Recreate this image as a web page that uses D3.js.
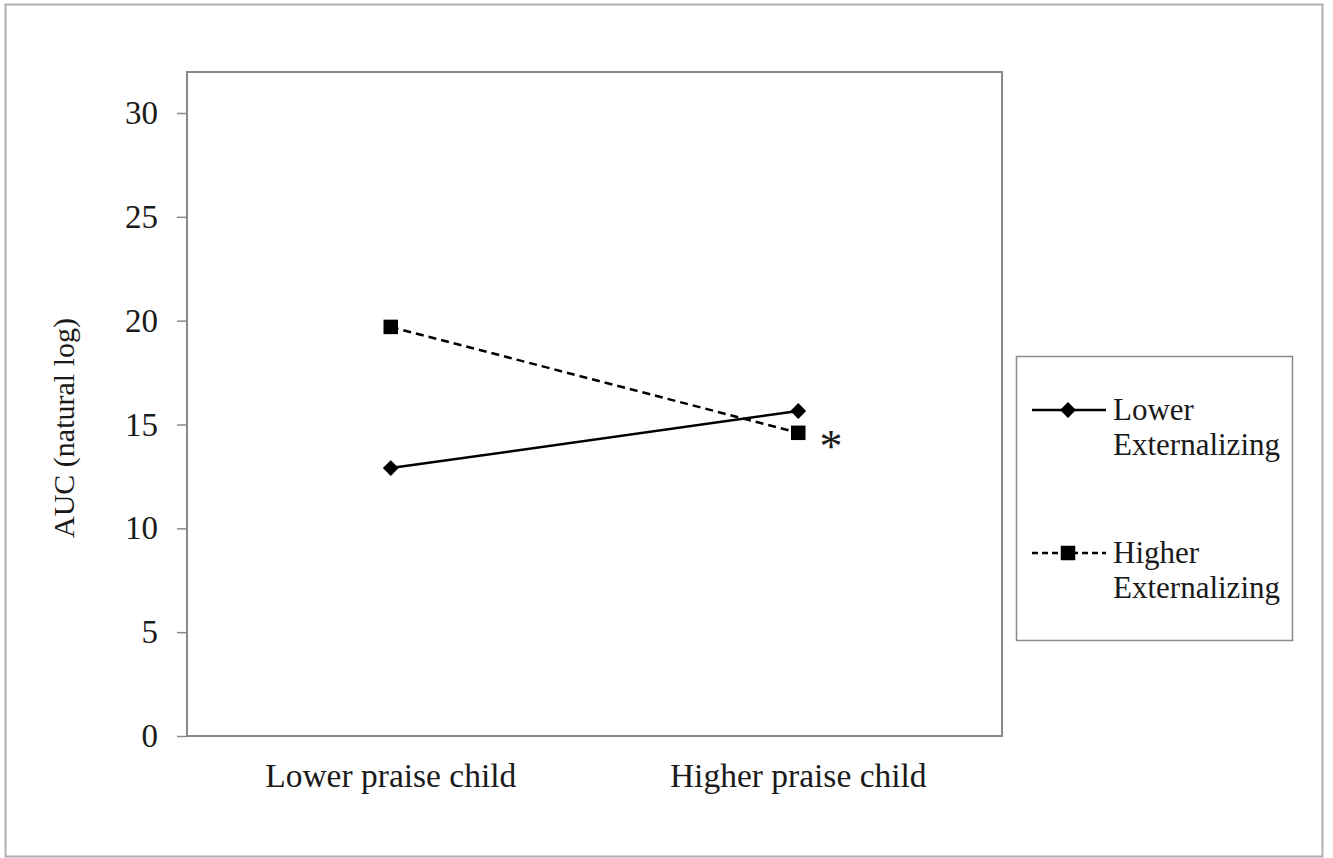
<!DOCTYPE html>
<html><head><meta charset="utf-8">
<script src="https://cdn.jsdelivr.net/npm/d3@7"></script>
<style>body{margin:0;background:#fff}svg{display:block}text{font-family:"Liberation Serif","Times New Roman",serif;fill:#1a1a1a}</style>
</head><body>
<script>
const categories = ["Lower praise child", "Higher praise child"];
const seriesNames = ["Lower Externalizing", "Higher Externalizing"];
const lowerExt = [12.9, 15.65];
const higherExt = [19.7, 14.6];
const yTicks = [0, 5, 10, 15, 20, 25, 30];

const W = 1333, H = 858;
const svg = d3.select("body").append("svg").attr("width", W).attr("height", H);
svg.append("rect").attr("x", 5.5).attr("y", 4.5).attr("width", 1317).attr("height", 852)
  .attr("fill", "#fff").attr("stroke", "#b0b0b0").attr("stroke-width", 2);

const L = 187, R = 1002, T = 72, B = 736;
const x = d3.scaleBand().domain(categories).range([L, R]).padding(0);
const y = d3.scaleLinear().domain([0, 30]).range([B, 113]);

svg.append("rect").attr("x", L).attr("y", T).attr("width", R - L).attr("height", B - T)
  .attr("fill", "none").attr("stroke", "#8a8a8a").attr("stroke-width", 2);

const yAxis = svg.append("g").attr("transform", `translate(${L},0)`)
  .call(d3.axisLeft(y).tickValues(yTicks).tickSize(10).tickPadding(19));
yAxis.select(".domain").remove();
yAxis.selectAll("line").attr("stroke", "#8a8a8a").attr("stroke-width", 1.5);
yAxis.selectAll("text").attr("font-size", 33).attr("font-family", "Liberation Serif").attr("fill", "#1a1a1a");

const xAxis = svg.append("g").attr("transform", `translate(0,${B})`)
  .call(d3.axisBottom(x).tickSize(0).tickPadding(27));
xAxis.select(".domain").remove();
xAxis.selectAll("text").attr("font-size", 33.5).attr("font-family", "Liberation Serif").attr("fill", "#1a1a1a");

svg.append("text").attr("transform", `translate(74,428) rotate(-90)`)
  .attr("text-anchor", "middle").attr("font-size", 30).text("AUC (natural log)");

const cx = d => x(d) + x.bandwidth() / 2;
const line = d3.line().x((d, i) => cx(categories[i])).y(d => y(d));

svg.append("path").datum(lowerExt).attr("d", line).attr("fill", "none")
  .attr("stroke", "#000").attr("stroke-width", 2.5);
svg.append("path").datum(higherExt).attr("d", line).attr("fill", "none")
  .attr("stroke", "#000").attr("stroke-width", 2.5).attr("stroke-dasharray", "8,5");

const diamond = d3.symbol().type(d3.symbolDiamond2).size(160);
const square = d3.symbol().type(d3.symbolSquare).size(210);
svg.selectAll(".dm").data(lowerExt).enter().append("path")
  .attr("transform", (d, i) => `translate(${cx(categories[i])},${y(d)})`).attr("d", diamond).attr("fill", "#000");
svg.selectAll(".sq").data(higherExt).enter().append("path")
  .attr("transform", (d, i) => `translate(${cx(categories[i])},${y(d)})`).attr("d", square).attr("fill", "#000");

svg.append("text").attr("x", 831).attr("y", 462).attr("text-anchor", "middle")
  .attr("font-size", 46).text("*");

// legend
svg.append("rect").attr("x", 1016.5).attr("y", 356.5).attr("width", 276).attr("height", 284)
  .attr("fill", "#fff").attr("stroke", "#8a8a8a").attr("stroke-width", 1.5);
const leg = [
  {name: ["Lower", "Externalizing"], y: 410, dash: null, sym: diamond},
  {name: ["Higher", "Externalizing"], y: 553, dash: "6,4", sym: square}
];
leg.forEach(l => {
  svg.append("line").attr("x1", 1032).attr("x2", 1106).attr("y1", l.y).attr("y2", l.y)
    .attr("stroke", "#000").attr("stroke-width", 2.5).attr("stroke-dasharray", l.dash);
  svg.append("path").attr("transform", `translate(1068,${l.y})`).attr("d", l.sym).attr("fill", "#000");
  const t = svg.append("text").attr("x", 1113).attr("y", l.y + 10).attr("font-size", 31);
  t.append("tspan").attr("x", 1113).attr("dy", 0).text(l.name[0]);
  t.append("tspan").attr("x", 1113).attr("dy", 35).text(l.name[1]);
});
</script>
</body></html>
